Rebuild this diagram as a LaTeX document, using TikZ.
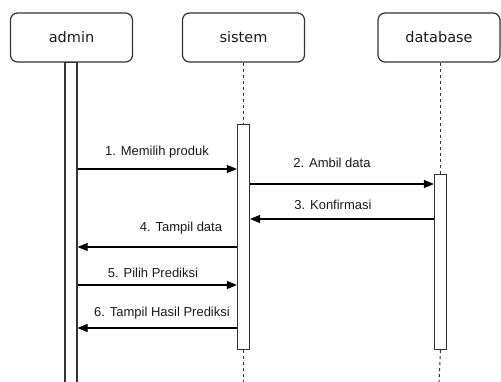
\documentclass[tikz,border=0pt]{standalone}
\usepackage{fontspec}
\setmainfont{Liberation Sans}
\newfontfamily\headfont{DejaVu Sans}
\usetikzlibrary{arrows.meta}
\definecolor{edge}{HTML}{333333}
\definecolor{ink}{HTML}{1A1A1A}
\tikzset{
  actor/.style={draw=edge, line width=1.2pt, rounded corners=7pt, fill=white,
    minimum width=122pt, minimum height=49pt, inner sep=0pt,
    font=\headfont\fontsize{14.5}{16}\selectfont, text=ink},
  bar/.style={draw=edge, line width=1.2pt, fill=white, minimum width=12pt,
    inner sep=0pt},
  lifeline/.style={draw=edge, line width=1pt, dash pattern=on 3pt off 3pt},
  msg/.style={draw=black, line width=1.2pt, -{Triangle[length=10pt,width=8pt]}},
  msglabel/.style={font=\fontsize{13}{15}\selectfont, text=ink, inner sep=0pt}
}
\begin{document}
\begin{tikzpicture}[x=1pt,y=-1pt]
\useasboundingbox (0,0) rectangle (501,382);
\clip (0,0) rectangle (501,382);

% participants
\node[actor] (admin) at (71.5,37.5) {admin};
\node[actor] (sistem) at (243.5,37.5) {sistem};
\node[actor] (db) at (439,37.5) {database};

% lifeline ends at the lower border
\coordinate (send) at (243.5,382);
\coordinate (dend) at (439,382);

% activation bars
\node[bar, minimum height=340pt, anchor=north] (abar) at (71,62) {};
\node[bar, minimum height=225pt, anchor=north] (sbar) at (243.5,124) {};
\node[bar, minimum height=175pt, anchor=north] (dbar) at (440.5,174) {};

\draw[lifeline] (sistem.south) -- (sbar.north);
\draw[lifeline] (sbar.south) -- (send);
\draw[lifeline] (db.south -| dbar.north) -- (dbar.north);
\draw[lifeline] (dbar.south) -- (dend);

% messages
\draw[msg] (abar.east |- 0,169) -- (sbar.west |- 0,169);
\node[msglabel] (m1) at (157,152) {1. Memilih produk};

\draw[msg] (sbar.east |- 0,184) -- (dbar.west |- 0,184);
\node[msglabel] (m2) at (332,163) {2. Ambil data};

\draw[msg] (dbar.west |- 0,219) -- (sbar.east |- 0,219);
\node[msglabel] (m3) at (333,205) {3. Konfirmasi};

\draw[msg] (sbar.west |- 0,247) -- (abar.east |- 0,247);
\node[msglabel] (m4) at (181,228) {4. Tampil data};

\draw[msg] (abar.east |- 0,285) -- (sbar.west |- 0,285);
\node[msglabel] (m5) at (153,273) {5. Pilih Prediksi};

\draw[msg] (sbar.west |- 0,328) -- (abar.east |- 0,328);
\node[msglabel] (m6) at (162,313) {6. Tampil Hasil Prediksi};
\end{tikzpicture}
\end{document}
